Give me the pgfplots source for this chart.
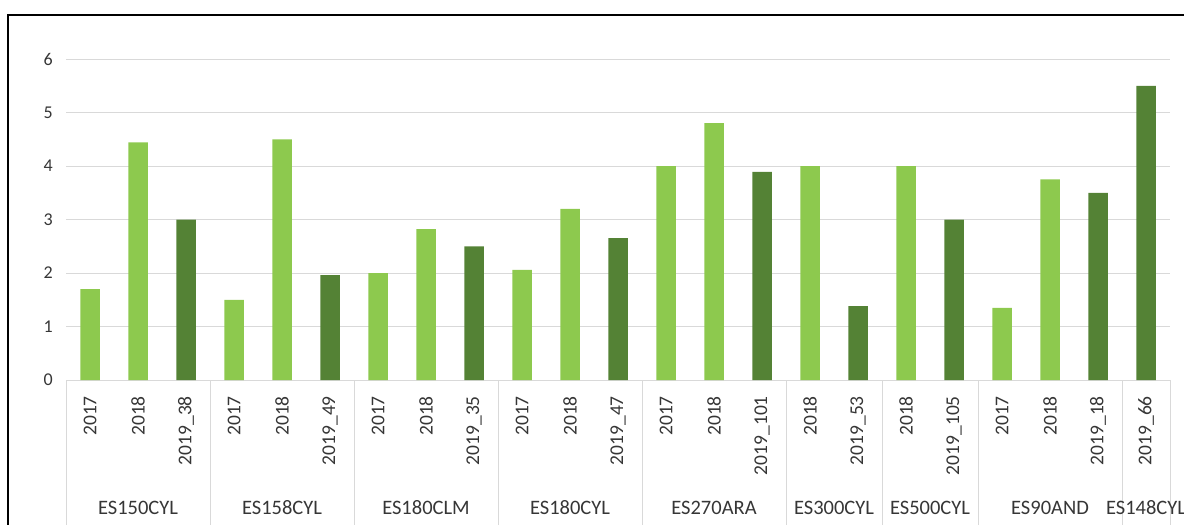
\documentclass[border=0pt]{standalone}
\usepackage{fontspec}
\setmainfont{Carlito}
\usepackage{pgfplots}
\pgfplotsset{compat=1.18}
\definecolor{lg}{HTML}{8DC94E}
\definecolor{dg}{HTML}{548235}
\definecolor{gridc}{HTML}{D9D9D9}
\definecolor{txt}{HTML}{363636}
\begin{document}
\begin{tikzpicture}[x=1pt,y=1pt]
\useasboundingbox (0,0) rectangle (1184,-525);
\draw[line width=2pt] (8,-560) -- (8,-15) -- (1200,-15);
\begin{axis}[
  at={(66pt,-380pt)}, anchor=south west,
  scale only axis, width=1104pt, height=321pt,
  xmin=-0.5, xmax=22.5, ymin=0, ymax=6,
  ytick={0,1,2,3,4,5,6},
  ymajorgrids, grid style={gridc, line width=1pt},
  axis x line*=bottom, axis y line*=left,
  y axis line style={draw=none},
  x axis line style={gridc, line width=1pt, -},
  major tick length=0pt,
  xtick={0,...,22},
  xticklabels={2017,2018,2019\_38,2017,2018,2019\_49,2017,2018,2019\_35,2017,2018,2019\_47,2017,2018,2019\_101,2018,2019\_53,2018,2019\_105,2017,2018,2019\_18,2019\_66},
  xticklabel style={yshift=-16pt, rotate=90, anchor=east, inner sep=0pt, font=\fontsize{19.5}{20}\selectfont, text=txt},
  yticklabel style={xshift=-13pt, inner sep=0pt, anchor=east, font=\fontsize{18}{20}\selectfont, text=txt},
  /pgf/number format/assume math mode=true,
  clip=false,
  ybar, bar width=19.5pt,
]
\addplot[fill=lg, draw=none, bar shift=0pt] coordinates {(0,1.70)(1,4.44)(3,1.50)(4,4.50)(6,2.0)(7,2.82)(9,2.06)(10,3.20)(12,4.0)(13,4.80)(15,4.0)(17,4.0)(19,1.35)(20,3.75)};
\addplot[fill=dg, draw=none, bar shift=0pt] coordinates {(2,3.0)(5,1.96)(8,2.50)(11,2.65)(14,3.89)(16,1.38)(18,3.0)(21,3.50)(22,5.50)};
\pgfplotsinvokeforeach{-0.5,2.5,5.5,8.5,11.5,14.5,16.5,18.5,21.5,22.5}{
  \draw[gridc, line width=1pt] (axis cs:#1,0) -- (axis cs:#1,-3);
}
\node[text=txt, font=\fontsize{20.5}{21}\selectfont] at (axis cs:1,0) [yshift=-128pt] {ES150CYL};
\node[text=txt, font=\fontsize{20.5}{21}\selectfont] at (axis cs:4,0) [yshift=-128pt] {ES158CYL};
\node[text=txt, font=\fontsize{20.5}{21}\selectfont] at (axis cs:7,0) [yshift=-128pt] {ES180CLM};
\node[text=txt, font=\fontsize{20.5}{21}\selectfont] at (axis cs:10,0) [yshift=-128pt] {ES180CYL};
\node[text=txt, font=\fontsize{20.5}{21}\selectfont] at (axis cs:13,0) [yshift=-128pt] {ES270ARA};
\node[text=txt, font=\fontsize{20.5}{21}\selectfont] at (axis cs:15.5,0) [yshift=-128pt] {ES300CYL};
\node[text=txt, font=\fontsize{20.5}{21}\selectfont] at (axis cs:17.5,0) [yshift=-128pt] {ES500CYL};
\node[text=txt, font=\fontsize{20.5}{21}\selectfont] at (axis cs:20,0) [yshift=-128pt] {ES90AND};
\node[text=txt, font=\fontsize{20.5}{21}\selectfont] at (axis cs:22,0) [yshift=-128pt] {ES148CYL};
\end{axis}
\end{tikzpicture}
\end{document}
